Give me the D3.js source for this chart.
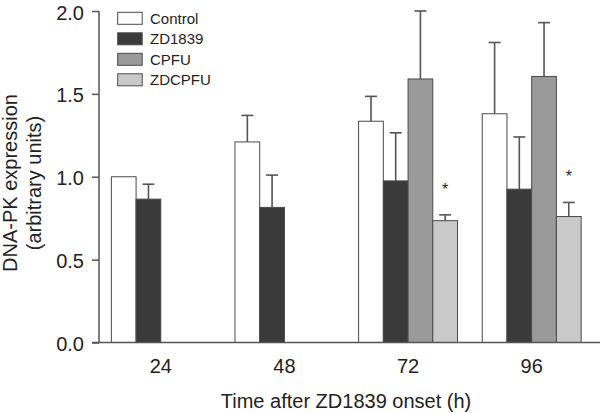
<!DOCTYPE html>
<html>
<head>
<meta charset="utf-8">
<script src="https://cdn.jsdelivr.net/npm/d3@7"></script>
<style>
  html, body { margin: 0; padding: 0; background: #fff; }
  text { font-family: "Liberation Sans", Arial, Helvetica, sans-serif; fill: #222; }
</style>
</head>
<body>
<svg id="chart" width="600" height="413"></svg>
<script>
// ---- data ----
const groups = ["24", "48", "72", "96"];
const series = ["Control", "ZD1839", "CPFU", "ZDCPFU"];
const controlValues = [1.00, 1.21, 1.335, 1.38];
const zd1839Values  = [0.865, 0.815, 0.975, 0.925];
const cpfuValues    = [null, null, 1.59, 1.605];
const zdcpfuValues  = [null, null, 0.735, 0.76];
const controlErr = [0, 0.16, 0.15, 0.43];
const zd1839Err  = [0.09, 0.195, 0.29, 0.315];
const cpfuErr    = [null, null, 0.41, 0.325];
const zdcpfuErr  = [null, null, 0.035, 0.085];
const zdcpfuSig  = ["", "", "*", "*"];
const yTicks = [0.0, 0.5, 1.0, 1.5, 2.0];
const colors = ["#ffffff", "#3a3a3a", "#9a9a9a", "#c9c9c9"];

const valueSets = [controlValues, zd1839Values, cpfuValues, zdcpfuValues];
const errSets = [controlErr, zd1839Err, cpfuErr, zdcpfuErr];

const svg = d3.select("#chart");
const axisColor = "#555";

const y = d3.scaleLinear().domain([0, 2]).range([342.5, 11]);
const x0 = d3.scaleBand().domain(groups).range([99, 593.5]).paddingInner(0.2).paddingOuter(0.1);
const x1 = d3.scaleBand().domain(series).range([0, x0.bandwidth()]);

// bars
const data = [];
groups.forEach((g, gi) => {
  series.forEach((s, si) => {
    const v = valueSets[si][gi];
    if (v != null) data.push({ g, s, si, v, e: errSets[si][gi], sig: si === 3 ? zdcpfuSig[gi] : "" });
  });
});

const bars = svg.append("g");
bars.selectAll("rect").data(data).join("rect")
  .attr("x", d => x0(d.g) + x1(d.s))
  .attr("y", d => y(d.v))
  .attr("width", x1.bandwidth())
  .attr("height", d => y(0) - y(d.v))
  .attr("fill", d => colors[d.si])
  .attr("stroke", "#4a4a4a")
  .attr("stroke-width", 1);

// error bars (upper)
const eb = svg.append("g").attr("stroke", "#555").attr("stroke-width", 1.6);
data.filter(d => d.e > 0).forEach(d => {
  const cx = x0(d.g) + x1(d.s) + x1.bandwidth() / 2;
  eb.append("line").attr("x1", cx).attr("x2", cx).attr("y1", y(d.v)).attr("y2", y(d.v + d.e));
  eb.append("line").attr("x1", cx - 6).attr("x2", cx + 6).attr("y1", y(d.v + d.e)).attr("y2", y(d.v + d.e));
});

// significance
svg.append("g").selectAll("text").data(data.filter(d => d.sig)).join("text")
  .attr("x", d => x0(d.g) + x1(d.s) + x1.bandwidth() / 2)
  .attr("y", d => y(d.v + d.e) - 20)
  .attr("text-anchor", "middle")
  .attr("font-size", 16)
  .text(d => d.sig);

// y axis
const yAxis = svg.append("g").attr("transform", "translate(99,0)")
  .call(d3.axisLeft(y).tickValues(yTicks).tickSize(7).tickPadding(8).tickFormat(d3.format(".1f")));
yAxis.select(".domain").attr("stroke", axisColor).attr("stroke-width", 1.5).attr("d", "M0," + y(2) + "V" + y(0));
yAxis.selectAll(".tick line").attr("stroke", axisColor).attr("stroke-width", 1.5);
yAxis.selectAll(".tick text").attr("font-size", 20).attr("fill", "#222")
  .attr("font-family", "Liberation Sans, Arial, sans-serif").attr("dy", "0.4em");

// x axis
const xAxis = svg.append("g").attr("transform", "translate(0," + y(0) + ")")
  .call(d3.axisBottom(x0).tickSize(0).tickPadding(16));
xAxis.select(".domain").attr("stroke", axisColor).attr("stroke-width", 1.5).attr("d", "M92,0H600");
xAxis.selectAll(".tick text").attr("font-size", 20).attr("fill", "#222")
  .attr("font-family", "Liberation Sans, Arial, sans-serif");

// axis titles
svg.append("text").attr("x", 346).attr("y", 408).attr("text-anchor", "middle")
  .attr("font-size", 20).text("Time after ZD1839 onset (h)");
const yt = svg.append("text").attr("transform", "translate(17,183) rotate(-90)")
  .attr("text-anchor", "middle").attr("font-size", 20);
yt.append("tspan").attr("x", 0).attr("y", 0).text("DNA-PK expression");
yt.append("tspan").attr("x", 0).attr("y", 24).text("(arbitrary units)");

// legend
const lg = svg.append("g");
series.forEach((s, i) => {
  const yy = 12.3 + i * 20.5;
  lg.append("rect").attr("x", 117.7).attr("y", yy).attr("width", 24.5).attr("height", 12)
    .attr("fill", colors[i]).attr("stroke", "#4a4a4a").attr("stroke-width", 1);
  lg.append("text").attr("x", 150).attr("y", yy + 11.5).attr("font-size", 15).text(s);
});
</script>
</body>
</html>
